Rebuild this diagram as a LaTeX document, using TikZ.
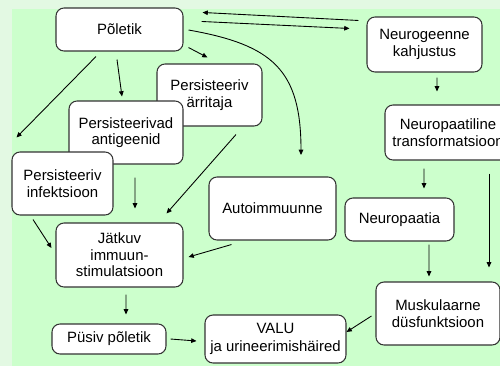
\documentclass[tikz,border=0pt]{standalone}
\usepackage{fontspec}
\setmainfont{Liberation Sans}
\usepackage{tikz}
\usetikzlibrary{positioning, arrows.meta}

\definecolor{pagebg}{HTML}{E3F9E3}
\definecolor{panelbg}{HTML}{CCFFCC}

\begin{document}
\begin{tikzpicture}
        [x=0.02cm, y=-0.02cm,
         box/.style={draw=black!80, fill=white, line width=0.6pt, rounded corners=0.16cm,
                     align=center, inner sep=0pt, font=\fontsize{8.5}{9.4}\selectfont},
         dim/.style 2 args={minimum width=#1*0.02cm, minimum height=#2*0.02cm},
         line width=0.5pt, >={Triangle[length=3pt, width=2.6pt]}]
        \clip (0,0) rectangle (500,366);
        \fill[pagebg] (0,0) rectangle (500,366);
        \fill[panelbg] (12,9) rectangle (500,366);

        % left column
        \node[box, dim={127}{43}] (pol) at (119.5,29.5) {Põletik};
        \node[box, dim={105}{62}] (arr) at (209.5,95) {Persisteeriv\\ärritaja};
        \node[box, dim={114}{63}] (ant) at (126,132.5) {Persisteerivad\\antigeenid};
        \node[box, dim={101}{63}] (inf) at (62.5,183.5) {Persisteeriv\\infektsioon};
        \node[box, dim={127}{64}] (jat) at (119.5,255) {Jätkuv\\immuun-\\stimulatsioon};
        \node[box, dim={114}{30}] (pus) at (109,339) {Püsiv põletik};
        \node[box, dim={141}{48}] (valu) at (275.5,339) {VALU\\[1pt]ja urineerimishäired};
        \node[box, dim={127}{63}] (auto) at (272.5,208.5) {Autoimmuunne};

        % right column
        \node[box, dim={115}{55}] (neug) at (424.5,44.5) {Neurogeenne\\kahjustus};
        \node[box, dim={126}{55}] (tra) at (448,132.5) {Neuropaatiline\\transformatsioon};
        \node[box, dim={109}{43}] (neup) at (399.5,219.5) {Neuropaatia};
        \node[box, dim={124}{63}] (musk) at (438,313.5) {Muskulaarne\\düsfunktsioon};

        \coordinate (autotip) at (301,155);

        \draw[->] ([shift={(-8,4)}]neug.north west) -- ([shift={(19,5)}]pol.north east);
        \draw[->] ([shift={(18,14)}]pol.north east) -- ([shift={(-17,12)}]neug.north west);
        \draw[->] ([shift={(5,0.5)}]pol.east) to[out=-10, in=90, looseness=1.3] (autotip);
        \draw[->] ([shift={(5,-4)}]pol.south east) -- ([shift={(51,-6)}]arr.north west);
        \draw[->] ([shift={(-2.5,8)}]pol.south) -- ([shift={(-4,-4)}]ant.north);
        \draw[->] ([shift={(-23.5,5)}]pol.south) -- ([shift={(5,-14)}]inf.north west);

        \draw[->] ([shift={(9,13)}]ant.south) -- ([shift={(15.5,-14)}]jat.north);
        \draw[->] ([shift={(26.5,8)}]arr.south) -- ([shift={(-17,-9)}]jat.north east);
        \draw[->] ([shift={(-29.5,4)}]inf.south) -- ([shift={(-4,-7)}]jat.west);
        \draw[->] ([shift={(23,4)}]auto.south west) -- ([shift={(5,2)}]jat.east);
        \draw[->] ([shift={(6.5,7)}]jat.south) -- ([shift={(17,-9)}]pus.north);
        \draw[->] ([shift={(4,0)}]pus.east) -- ([shift={(-8,2)}]valu.west);

        \draw[->] ([shift={(12.5,5)}]neug.south) -- ([shift={(-11,-13)}]tra.north);
        \draw[->] ([shift={(-24,8)}]tra.south) -- ([shift={(24.5,-9)}]neup.north);
        \draw[->] ([shift={(41,13)}]tra.south) -- ([shift={(51,-14)}]musk.north);
        \draw[->] ([shift={(29.5,3)}]neup.south) -- ([shift={(-9,-5)}]musk.north);
        \draw[->] ([shift={(-4,2.5)}]musk.west) -- ([shift={(0,-7)}]valu.east);
    \end{tikzpicture}
\end{document}
